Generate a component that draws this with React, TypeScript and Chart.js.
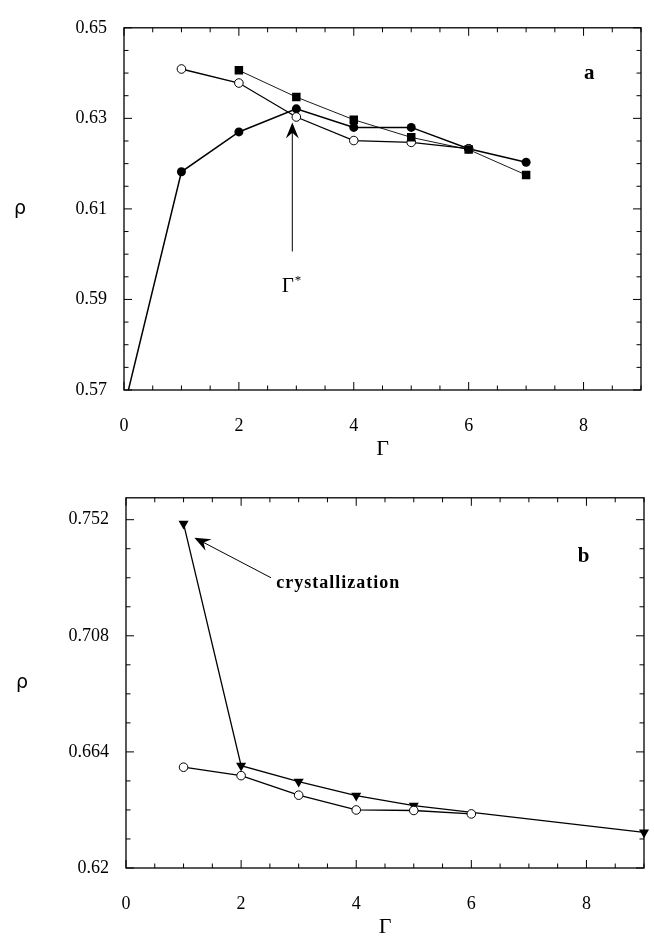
import React, { useEffect, useRef } from 'react';
import { Chart, registerables } from 'chart.js';

Chart.register(...registerables);

const SERIF = '"Liberation Serif", "Times New Roman", serif';

// ---- tick labels ----
const xTickLabels = [0, 2, 4, 6, 8];
const yTicksA = [0.57, 0.59, 0.61, 0.63, 0.65];
const yTicksB = [0.62, 0.664, 0.708, 0.752];

// ---- panel a data ----
const filledCircleGammaA = [0, 1, 2, 3, 4, 5, 6, 7];
const filledCircleRhoA = [0.566, 0.6182, 0.627, 0.6321, 0.628, 0.628, 0.6233, 0.6203];
const openCircleGammaA = [1, 2, 3, 4, 5, 6];
const openCircleRhoA = [0.6409, 0.6378, 0.6303, 0.6251, 0.6247, 0.6233];
const squareGammaA = [2, 3, 4, 5, 6, 7];
const squareRhoA = [0.6406, 0.6347, 0.6297, 0.6258, 0.6231, 0.6175];

// ---- panel b data ----
const openCircleGammaB = [1, 2, 3, 4, 5, 6];
const openCircleRhoB = [0.6582, 0.655, 0.6476, 0.642, 0.6418, 0.6405];
const triangleGammaB = [1, 2, 3, 4, 5, 9];
const triangleRhoB = [0.7505, 0.6588, 0.6527, 0.6474, 0.6436, 0.6335];

// ---- annotations (data coordinates) ----
const panelLabelA = { text: 'a', x: 8.1, y: 0.6399 };
const arrowA = { x1: 2.93, y1: 0.6006, x2: 2.93, y2: 0.6291 };
const noteA = { text: 'Γ', sup: '*', x: 2.85, y: 0.5928 };
const panelLabelB = { text: 'b', x: 7.95, y: 0.738 };
const arrowB = { x1: 2.52, y1: 0.73, x2: 1.188, y2: 0.7452 };
const noteB = { text: 'crystallization', x: 2.61, y: 0.728 };

const pts = (xs: number[], ys: number[]) => xs.map((x, i) => ({ x, y: ys[i] }));

function drawArrow(ctx: CanvasRenderingContext2D, x1: number, y1: number, x2: number, y2: number) {
  const dx = x2 - x1, dy = y2 - y1;
  const len = Math.hypot(dx, dy);
  const ux = dx / len, uy = dy / len;
  const px = -uy, py = ux;
  const hl = 16, hw = 6.5;
  ctx.beginPath();
  ctx.moveTo(x1, y1);
  ctx.lineTo(x2 - ux * hl * 0.6, y2 - uy * hl * 0.6);
  ctx.lineWidth = 1;
  ctx.stroke();
  ctx.beginPath();
  ctx.moveTo(x2, y2);
  ctx.lineTo(x2 - ux * hl + px * hw, y2 - uy * hl + py * hw);
  ctx.lineTo(x2 - ux * hl * 0.65, y2 - uy * hl * 0.65);
  ctx.lineTo(x2 - ux * hl - px * hw, y2 - uy * hl - py * hw);
  ctx.closePath();
  ctx.fill();
}

function makeFramePlugin(yBase: number, yMinor: number, yMajor: number) {
  return {
    id: 'frame',
    afterDatasetsDraw(chart: any) {
      const { ctx, chartArea } = chart;
      const { left, right, top, bottom } = chartArea;
      const xs = chart.scales.x, ys = chart.scales.y;
      ctx.save();
      ctx.strokeStyle = '#000';
      ctx.lineWidth = 1.3;
      ctx.strokeRect(left, top, right - left, bottom - top);
      ctx.lineWidth = 1;
      const seg = (a: number, b: number, c: number, d: number) => {
        ctx.beginPath(); ctx.moveTo(a, b); ctx.lineTo(c, d); ctx.stroke();
      };
      const nx = Math.round((xs.max - xs.min) / 0.5);
      for (let i = 0; i <= nx; i++) {
        const v = xs.min + i * 0.5;
        const major = Math.abs(v / 2 - Math.round(v / 2)) < 1e-6;
        const l = major ? 8 : 4.5;
        const p = xs.getPixelForValue(v);
        seg(p, bottom, p, bottom - l);
        seg(p, top, p, top + l);
      }
      for (let i = 0; ; i++) {
        const v = yBase + i * yMinor;
        if (v > ys.max + 1e-9) break;
        const k = (v - yBase) / yMajor;
        const major = Math.abs(k - Math.round(k)) < 1e-6;
        const l = major ? 8 : 4.5;
        const p = ys.getPixelForValue(v);
        seg(left, p, left + l, p);
        seg(right, p, right - l, p);
      }
      ctx.restore();
    },
  };
}

function makeAnnotPlugin(panel: any, arrow: any, note: any, bold: boolean) {
  return {
    id: 'annot',
    afterDraw(chart: any) {
      const { ctx, chartArea } = chart;
      const xs = chart.scales.x, ys = chart.scales.y;
      ctx.save();
      ctx.fillStyle = '#000';
      ctx.strokeStyle = '#000';
      // rho label
      ctx.font = '19px "DejaVu Sans", sans-serif';
      ctx.textAlign = 'center';
      ctx.textBaseline = 'middle';
      ctx.fillText('ρ', chartArea.left - 104, (chartArea.top + chartArea.bottom) / 2);
      // gamma axis title
      ctx.font = `22px ${SERIF}`;
      ctx.fillText('Γ', (chartArea.left + chartArea.right) / 2, chartArea.bottom + 59);
      // panel label
      ctx.font = `bold 21px ${SERIF}`;
      ctx.fillText(panel.text, xs.getPixelForValue(panel.x), ys.getPixelForValue(panel.y));
      // arrow
      drawArrow(ctx, xs.getPixelForValue(arrow.x1), ys.getPixelForValue(arrow.y1),
        xs.getPixelForValue(arrow.x2), ys.getPixelForValue(arrow.y2));
      // note
      const nx = xs.getPixelForValue(note.x), ny = ys.getPixelForValue(note.y);
      if (bold) {
        ctx.font = `bold 18px ${SERIF}`;
        (ctx as any).letterSpacing = '1px';
        ctx.textAlign = 'left';
        ctx.fillText(note.text, nx, ny);
      } else {
        ctx.font = `21px ${SERIF}`;
        ctx.textAlign = 'center';
        ctx.fillText(note.text, nx, ny);
        const w = ctx.measureText(note.text).width;
        ctx.font = `13px ${SERIF}`;
        ctx.textAlign = 'left';
        ctx.fillText(note.sup, nx + w / 2 + 1, ny - 6);
      }
      ctx.restore();
    },
  };
}

const tickFont = { family: SERIF, size: 18 };

function scalesFor(yMin: number, yMax: number, yTicks: number[], yWidth: number, xHeight: number) {
  return {
    x: {
      type: 'linear',
      min: 0,
      max: 9,
      afterBuildTicks: (s: any) => { s.ticks = xTickLabels.map((v) => ({ value: v })); },
      afterFit: (s: any) => { s.height = xHeight; },
      ticks: { font: tickFont, color: '#000', padding: 25, maxRotation: 0, callback: (v: any) => String(v) },
      grid: { display: false, drawTicks: false },
      border: { display: false },
    },
    y: {
      type: 'linear',
      min: yMin,
      max: yMax,
      afterBuildTicks: (s: any) => { s.ticks = yTicks.map((v) => ({ value: v })); },
      afterFit: (s: any) => { s.width = yWidth; },
      ticks: { font: tickFont, color: '#000', padding: 17, callback: (v: any) => String(v) },
      grid: { display: false, drawTicks: false },
      border: { display: false },
    },
  };
}

function ChartPanel({ config, width, height }: { config: any; width: number; height: number }) {
  const ref = useRef<HTMLCanvasElement>(null);
  useEffect(() => {
    const chart = new Chart(ref.current as HTMLCanvasElement, config);
    return () => chart.destroy();
  }, []);
  return <canvas ref={ref} width={width} height={height} style={{ display: 'block', width, height }} />;
}

const baseOpts = {
  responsive: false,
  animation: false,
  events: [],
  plugins: { legend: { display: false }, tooltip: { enabled: false } },
};

const configA = {
  type: 'line',
  data: {
    datasets: [
      {
        data: pts(squareGammaA, squareRhoA),
        borderColor: '#000', borderWidth: 0.9,
        pointStyle: 'rect', pointRadius: 6,
        pointBackgroundColor: '#000', pointBorderColor: '#000', pointBorderWidth: 0,
        tension: 0, fill: false,
      },
      {
        data: pts(openCircleGammaA, openCircleRhoA),
        borderColor: '#000', borderWidth: 1.3,
        pointStyle: 'circle', pointRadius: 4.3,
        pointBackgroundColor: '#fff', pointBorderColor: '#000', pointBorderWidth: 1,
        tension: 0, fill: false,
      },
      {
        data: pts(filledCircleGammaA, filledCircleRhoA),
        borderColor: '#000', borderWidth: 1.5,
        pointStyle: 'circle', pointRadius: 4.5,
        pointBackgroundColor: '#000', pointBorderColor: '#000', pointBorderWidth: 0,
        tension: 0, fill: false,
      },
    ],
  },
  options: {
    ...baseOpts,
    layout: { padding: { left: 0, top: 11, right: 13, bottom: 0 } },
    scales: scalesFor(0.57, 0.65, yTicksA, 124, 80),
  },
  plugins: [makeFramePlugin(0.57, 0.005, 0.02), makeAnnotPlugin(panelLabelA, arrowA, noteA, false)],
};

const configB = {
  type: 'line',
  data: {
    datasets: [
      {
        data: pts(openCircleGammaB, openCircleRhoB),
        borderColor: '#000', borderWidth: 1.3,
        pointStyle: 'circle', pointRadius: 4.3,
        pointBackgroundColor: '#fff', pointBorderColor: '#000', pointBorderWidth: 1,
        tension: 0, fill: false,
      },
      {
        data: pts(triangleGammaB, triangleRhoB),
        borderColor: '#000', borderWidth: 1.3,
        pointStyle: 'triangle', pointRotation: 180, pointRadius: 5.8,
        pointBackgroundColor: '#000', pointBorderColor: '#000', pointBorderWidth: 0,
        tension: 0, fill: false, clip: false,
      },
    ],
  },
  options: {
    ...baseOpts,
    layout: { padding: { left: 0, top: 20, right: 10, bottom: 0 } },
    scales: scalesFor(0.62, 0.7603, yTicksB, 126, 71),
  },
  plugins: [makeFramePlugin(0.62, 0.011, 0.044), makeAnnotPlugin(panelLabelB, arrowB, noteB, true)],
};

export default function App() {
  return (
    <div style={{ position: 'absolute', left: 0, top: 0, width: 654, height: 939, background: '#fff' }}>
      <ChartPanel config={configA} width={654} height={470} />
      <ChartPanel config={configB} width={654} height={469} />
    </div>
  );
}
